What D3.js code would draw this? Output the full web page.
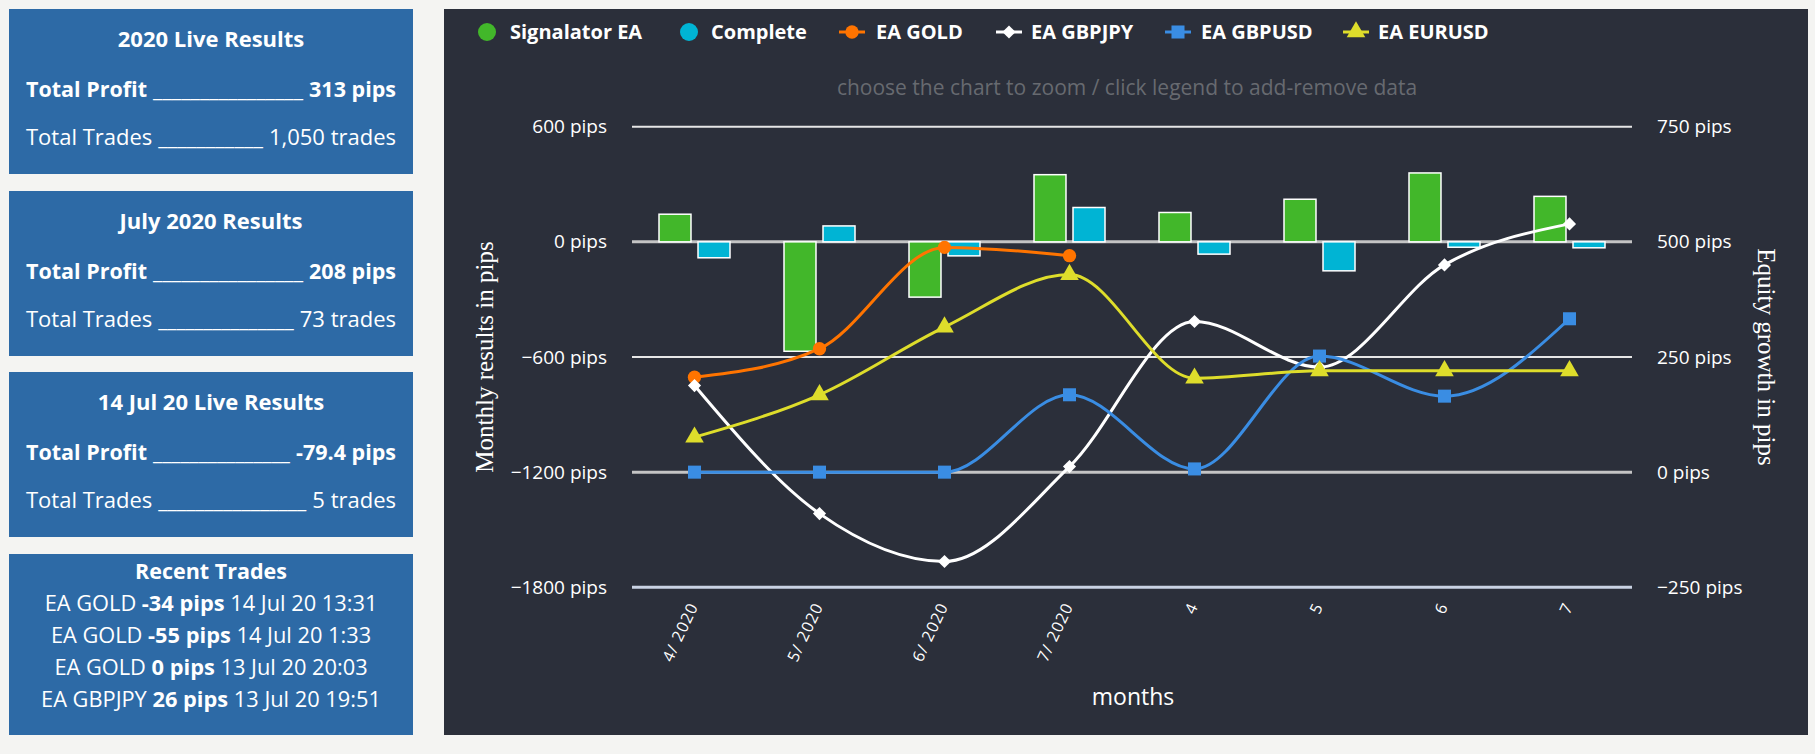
<!DOCTYPE html>
<html>
<head>
<meta charset="utf-8">
<script src="https://cdn.jsdelivr.net/npm/d3@7"></script>
<style>
  html, body { margin: 0; padding: 0; background: #f4f4f2; }
  svg { display: block; }
  text { font-family: "Open Sans", sans-serif; }
</style>
</head>
<body>
<svg id="root" width="1815" height="754"></svg>
<script>
// ---------------- DATA ----------------
const categories = ["4/ 2020", "5/ 2020", "6/ 2020", "7/ 2020", "4", "5", "6", "7"];
const signalatorEA = [144, -570, -288, 350, 153, 222, 359, 237];
const completeSeries = [-83, 83, -73, 179, -64, -151, -28, -31];
const eaGold   = [206, 268, 488, 470, null, null, null, null];
const eaGbpjpy = [188, -90, -194, 12, 327, 228, 450, 539];
const eaGbpusd = [0, 0, 0, 168, 7, 252, 165, 333];
const eaEurusd = [76, 168, 315, 429, 204, 220, 220, 220];
const leftTicks  = [600, 0, -600, -1200, -1800];
const rightTicks = [750, 500, 250, 0, -250];
const legendNames = ["Signalator EA", "Complete", "EA GOLD", "EA GBPJPY", "EA GBPUSD", "EA EURUSD"];

const panelTitles = ["2020 Live Results", "July 2020 Results", "14 Jul 20 Live Results"];
const panelProfit = ["313 pips", "208 pips", "-79.4 pips"];
const panelTrades = ["1,050 trades", "73 trades", "5 trades"];
const recentEA     = ["EA GOLD", "EA GOLD", "EA GOLD", "EA GBPJPY"];
const recentPips   = ["-34 pips", "-55 pips", "0 pips", "26 pips"];
const recentTime   = ["14 Jul 20 13:31", "14 Jul 20 1:33", "13 Jul 20 20:03", "13 Jul 20 19:51"];

// ---------------- STYLE ----------------
const C = {
  panel: "#2d6aa6", chart: "#2b2f3a",
  green: "#42b72a", cyan: "#00b4d4", orange: "#ff7400",
  white: "#ffffff", blue: "#3a8de3", yellow: "#dedd2b"
};

const svg = d3.select("#root");
const pipFmt = d => (d < 0 ? "\u2212" + Math.abs(d) : d) + " pips";

// ---------------- LEFT PANELS ----------------
const panelX = 9, panelW = 404;
const panelTops = [9, 191, 372];
const panelH = 165;
const textL = 26, textR = 396;

function fillRow(g, y, left, right, weight, size) {
  const lt = g.append("text").attr("x", textL).attr("y", y).attr("fill", "#fff")
    .attr("font-size", size).attr("font-weight", weight).text(left);
  const rt = g.append("text").attr("x", textR).attr("y", y).attr("fill", "#fff")
    .attr("text-anchor", "end").attr("font-size", size).attr("font-weight", weight).text(right);
  const lw = lt.node().getComputedTextLength();
  const rw = rt.node().getComputedTextLength();
  const start = textL + lw + 6, end = textR - rw - 6;
  const us = g.append("text").attr("x", start).attr("y", y).attr("fill", "#fff")
    .attr("font-size", size).attr("font-weight", "normal").text("_");
  const uw = us.node().getComputedTextLength();
  const n = Math.max(1, Math.ceil((end - start) / uw));
  us.text("_".repeat(n)).attr("textLength", end - start).attr("lengthAdjust", "spacingAndGlyphs");
}

panelTops.forEach((top, i) => {
  const g = svg.append("g");
  g.append("rect").attr("x", panelX).attr("y", top).attr("width", panelW).attr("height", panelH).attr("fill", C.panel);
  g.append("text").attr("x", panelX + panelW / 2).attr("y", top + 38).attr("text-anchor", "middle")
    .attr("fill", "#fff").attr("font-size", 22).attr("font-weight", "bold").text(panelTitles[i]);
  fillRow(g, top + 88, "Total Profit", panelProfit[i], "bold", 21.5);
  fillRow(g, top + 136, "Total Trades", panelTrades[i], "normal", 22);
});

// Recent trades panel
{
  const top = 554;
  const g = svg.append("g");
  g.append("rect").attr("x", panelX).attr("y", top).attr("width", panelW).attr("height", 181).attr("fill", C.panel);
  g.append("text").attr("x", panelX + panelW / 2).attr("y", top + 25).attr("text-anchor", "middle")
    .attr("fill", "#fff").attr("font-size", 21.5).attr("font-weight", "bold").text("Recent Trades");
  recentEA.forEach((ea, i) => {
    const t = g.append("text").attr("x", panelX + panelW / 2).attr("y", top + 57 + i * 32)
      .attr("text-anchor", "middle").attr("fill", "#fff").attr("font-size", 21.8);
    t.append("tspan").text(ea + " ");
    t.append("tspan").attr("font-weight", "bold").text(recentPips[i]);
    t.append("tspan").text(" " + recentTime[i]);
  });
}

// ---------------- CHART PANEL ----------------
svg.append("rect").attr("x", 444).attr("y", 9).attr("width", 1364).attr("height", 726).attr("fill", C.chart);

const plotL = 632, plotR = 1632, plotT = 126.7, plotB = 587.3;
const x = d3.scaleBand().domain(categories).range([plotL, plotR]);
const yL = d3.scaleLinear().domain([-1800, 600]).range([plotB, plotT]);
const yR = d3.scaleLinear().domain([-250, 750]).range([plotB, plotT]);
const inner = d3.scaleBand().domain(["s", "c"]).range([-35.5, 35.5]).paddingInner(0.18);

// gridlines
const grid = svg.append("g");
grid.selectAll("line.gl").data(leftTicks).join("line")
  .attr("x1", plotL).attr("x2", plotR)
  .attr("y1", d => yL(d)).attr("y2", d => yL(d))
  .attr("stroke", d => d === -1800 ? "#c9d2e3" : (d === 0 || d === -1200) ? "#c4c4c4" : "#e6e6e6")
  .attr("stroke-width", d => d === -1800 ? 3 : (d === 0 || d === -1200) ? 3 : 2);

// left axis labels
const axL = d3.axisLeft(yL).tickValues(leftTicks).tickSize(0).tickPadding(0).tickFormat(pipFmt);
const gL = svg.append("g").attr("transform", `translate(607,0)`).call(axL);
gL.select(".domain").remove();
gL.selectAll("text").attr("fill", "#fff").attr("font-size", 19).attr("font-family", "Open Sans");

const axR = d3.axisRight(yR).tickValues(rightTicks).tickSize(0).tickPadding(0).tickFormat(pipFmt);
const gR = svg.append("g").attr("transform", `translate(1657,0)`).call(axR);
gR.select(".domain").remove();
gR.selectAll("text").attr("fill", "#fff").attr("font-size", 19).attr("font-family", "Open Sans");

// axis titles
svg.append("text").attr("transform", `translate(493,357) rotate(-90)`).attr("text-anchor", "middle")
  .attr("fill", "#fff").attr("font-size", 25)
  .style("font-family", "'Liberation Serif', serif").text("Monthly results in pips");
svg.append("text").attr("transform", `translate(1758,357) rotate(90)`).attr("text-anchor", "middle")
  .attr("fill", "#fff").attr("font-size", 25)
  .style("font-family", "'Liberation Serif', serif").text("Equity growth in pips");

// x labels
const axX = d3.axisBottom(x).tickSize(0).tickPadding(0);
const gX = svg.append("g").call(axX);
gX.select(".domain").remove();
gX.selectAll(".tick").attr("transform", d => `translate(${x(d) + x.bandwidth() / 2 + 4},606)`);
gX.selectAll("text").attr("y", 0).attr("dy", 0).attr("fill", "#fff").attr("font-size", 16)
  .attr("letter-spacing", 1).attr("font-family", "Open Sans")
  .attr("text-anchor", "end").attr("transform", "rotate(-65)");

svg.append("text").attr("x", 1133).attr("y", 705).attr("text-anchor", "middle")
  .attr("fill", "#fff").attr("font-size", 23).text("months");

// subtitle
svg.append("text").attr("x", 1127).attr("y", 95).attr("text-anchor", "middle")
  .attr("fill", "#676a70").attr("font-size", 21).text("choose the chart to zoom / click legend to add-remove data");

// bars
const barData = [];
categories.forEach((c, i) => {
  barData.push({ c, key: "s", v: signalatorEA[i], color: C.green });
  barData.push({ c, key: "c", v: completeSeries[i], color: C.cyan });
});
svg.append("g").selectAll("rect").data(barData).join("rect")
  .attr("x", d => x(d.c) + x.bandwidth() / 2 + inner(d.key))
  .attr("width", inner.bandwidth())
  .attr("y", d => Math.min(yL(d.v), yL(0)))
  .attr("height", d => Math.abs(yL(d.v) - yL(0)))
  .attr("fill", d => d.color).attr("stroke", "#fff").attr("stroke-width", 1.5);

// lines
const cx = i => x(categories[i]) + x.bandwidth() / 2;
const lineGen = d3.line().defined(d => d.v !== null).x(d => cx(d.i)).y(d => yR(d.v)).curve(d3.curveMonotoneX);

const symbols = {
  circle: d3.symbol().type(d3.symbolCircle).size(140),
  diamond: d3.symbol().type(d3.symbolDiamond2).size(110),
  square: d3.symbol().type(d3.symbolSquare).size(170),
  triangle: d3.symbol().type(d3.symbolTriangle).size(150)
};

const lineSeries = [
  { data: eaGold, color: C.orange, sym: "circle" },
  { data: eaGbpjpy, color: C.white, sym: "diamond" },
  { data: eaGbpusd, color: C.blue, sym: "square" },
  { data: eaEurusd, color: C.yellow, sym: "triangle" }
];
lineSeries.forEach(s => {
  const pts = s.data.map((v, i) => ({ v, i }));
  const g = svg.append("g");
  g.append("path").attr("d", lineGen(pts)).attr("fill", "none").attr("stroke", s.color).attr("stroke-width", 3);
  g.selectAll("path.m").data(pts.filter(p => p.v !== null)).join("path").attr("class", "m")
    .attr("transform", p => `translate(${cx(p.i)},${yR(p.v)})`)
    .attr("d", symbols[s.sym]()).attr("fill", s.color);
});

// legend
const legX = [487, 689, 852, 1009, 1178, 1356];
const legTextX = [510, 711, 876, 1031, 1201, 1378];
const legColors = [C.green, C.cyan, C.orange, C.white, C.blue, C.yellow];
const legSym = [null, null, "circle", "diamond", "square", "triangle"];
const legY = 32;
const lg = svg.append("g");
legendNames.forEach((name, i) => {
  if (legSym[i] === null) {
    lg.append("circle").attr("cx", legX[i]).attr("cy", legY).attr("r", 9).attr("fill", legColors[i]);
  } else {
    lg.append("line").attr("x1", legX[i] - 13).attr("x2", legX[i] + 13).attr("y1", legY).attr("y2", legY)
      .attr("stroke", legColors[i]).attr("stroke-width", 3);
    lg.append("path").attr("transform", `translate(${legX[i]},${legY})`).attr("d", symbols[legSym[i]]()).attr("fill", legColors[i]);
  }
  lg.append("text").attr("x", legTextX[i]).attr("y", legY + 7).attr("fill", "#fff")
    .attr("font-size", 20).attr("font-weight", "bold").text(name);
});
</script>
</body>
</html>
